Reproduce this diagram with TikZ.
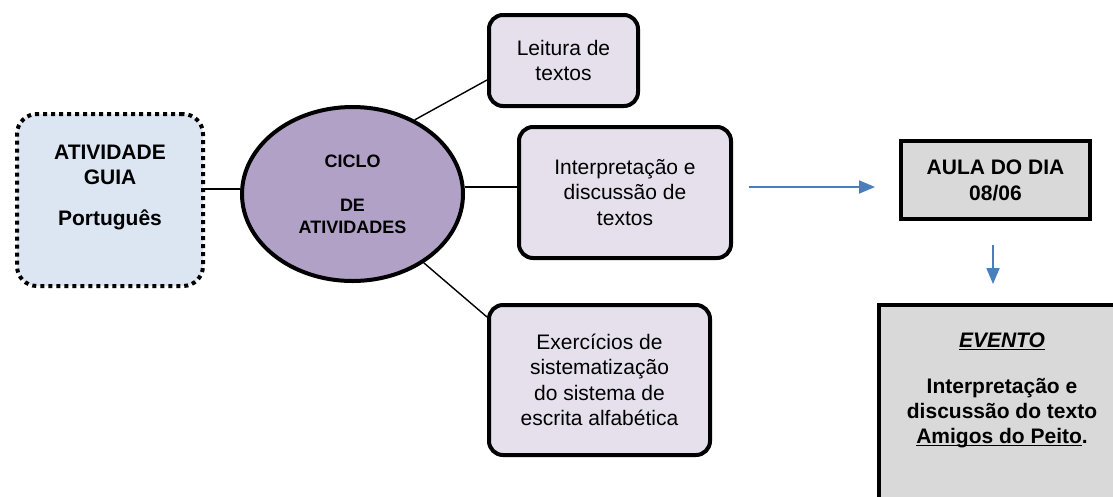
\documentclass[tikz,border=0pt]{standalone}
\usepackage{fontspec}
\setmainfont{Liberation Sans}
\usepackage{tikz}
\usetikzlibrary{shapes.geometric, arrows.meta}
\definecolor{lysblaa}{HTML}{DCE6F2}
\definecolor{lilla}{HTML}{B2A1C7}
\definecolor{lyslilla}{HTML}{E5E0EC}
\definecolor{graa}{HTML}{D9D9D9}
\definecolor{pilblaa}{HTML}{4A7EBB}
\tikzstyle{guiaboks} = [rectangle, draw=black, fill=lysblaa, line width=4pt, dash pattern=on 4pt off 4pt, rounded corners=20pt, minimum width=186pt, minimum height=172pt]
\tikzstyle{tekst} = [inner sep=0pt, align=center, font=\bfseries\fontsize{21}{25}\selectfont]
\tikzstyle{elipse} = [ellipse, draw=black, fill=lilla, line width=4pt, inner sep=0pt, minimum width=221pt, minimum height=174pt, align=center, font=\bfseries\fontsize{18}{22}\selectfont]
\tikzstyle{etapa} = [rectangle, draw=black, fill=lyslilla, line width=4pt, rounded corners=14pt, inner sep=0pt, align=center, font=\fontsize{21}{25.5}\selectfont]
\tikzstyle{quadro} = [rectangle, draw=black, fill=graa, line width=4pt, inner sep=0pt, align=center, font=\bfseries\fontsize{21}{26}\selectfont]
\tikzstyle{linha} = [line width=1.4pt]
\tikzstyle{seta} = [line width=1.8pt, color=pilblaa, -{Triangle[length=16pt,width=13pt]}]
\newcommand{\sublinha}[1]{\underline{\raisebox{0pt}[\height][0pt]{#1}}}

\begin{document}
\begin{tikzpicture}[x=1pt, y=-1pt]
    \useasboundingbox (0,0) rectangle (1113,496);
    \clip (0,0) rectangle (1113,496);

    \node (guia) [guiaboks] at (110,200) {};
    \node (guiatxt) [tekst] at (110,187) {ATIVIDADE\\ GUIA\\[16pt] Português};
    \node (ciclo) [elipse] at (352.5,194) {CICLO\\[22pt] DE\\ ATIVIDADES};
    \node (leitura) [etapa, minimum width=149pt, minimum height=91pt] at (563.5,60.5) {Leitura de\\ textos};
    \node (interp) [etapa, minimum width=212pt, minimum height=131pt] at (625,192.5) {Interpretação e\\ discussão de\\ textos};
    \node (exerc) [etapa, minimum width=221pt, minimum height=150pt] at (599.5,380) {Exercícios de\\ sistematização\\ do sistema de\\ escrita alfabética};
    \node (aula) [quadro, minimum width=189pt, minimum height=78pt] at (995.5,180) {AULA DO DIA\\ 08/06};
    \node (evento) [quadro, minimum width=250pt, minimum height=220pt] at (1004,415) {};
    \node (eventotxt) [tekst, anchor=north] at (1002,333) {\sublinha{\textit{EVENTO}}\\[21pt] Interpretação e\\ discussão do texto\\ \sublinha{Amigos do Peito}.};

    \draw [linha] ([yshift=11pt]guia.east) -- ([yshift=5pt]ciclo.west);
    \draw [linha] (ciclo.50) -- ([yshift=-19.5pt]leitura.west);
    \draw [linha] ([yshift=7pt]ciclo.east) -- ([yshift=5.5pt]interp.west);
    \draw [linha] (ciclo.-44) -- ([yshift=63pt]exerc.west);
    \draw [seta] ([xshift=16pt,yshift=5.5pt]interp.east) -- ([xshift=-24pt,yshift=-7pt]aula.west);
    \draw [seta] ([xshift=-2.5pt,yshift=-24pt]aula.south) -- ([xshift=-11pt,yshift=19pt]evento.north);
\end{tikzpicture}
\end{document}
